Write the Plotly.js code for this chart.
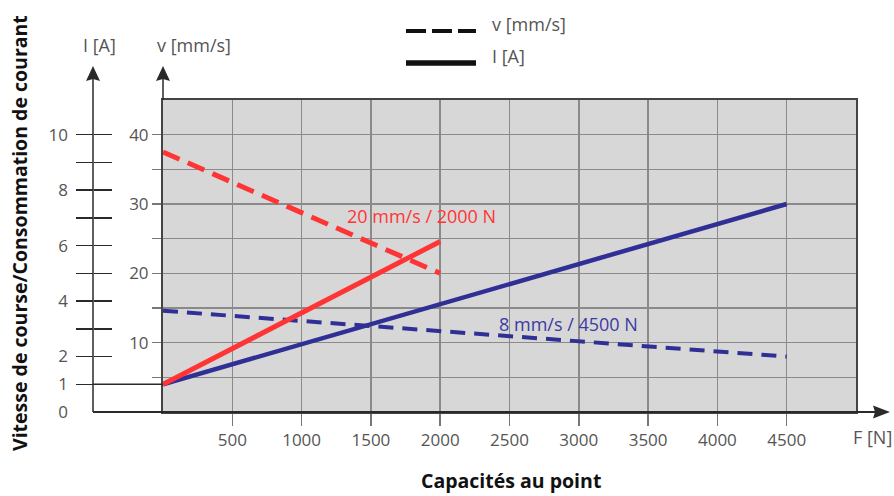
<!DOCTYPE html>
<html>
<head>
<meta charset="utf-8">
<script src="https://cdn.plot.ly/plotly-3.0.1.min.js"></script>
<style>
  html, body { margin: 0; padding: 0; background: #fff; }
  #chart { width: 894px; height: 496px; }
</style>
</head>
<body>
<div id="chart"></div>
<script>
// Force axis (N)
const forceTicks = [500, 1000, 1500, 2000, 2500, 3000, 3500, 4000, 4500];

// 20 mm/s / 2000 N drive
const forceRed = [0, 2000];
const speedRed = [37.5, 20];      // v [mm/s]
const currentRed = [1, 6.15];     // I [A]

// 8 mm/s / 4500 N drive
const forceBlue = [0, 4500];
const speedBlue = [14.6, 8];      // v [mm/s]
const currentBlue = [1, 7.5];     // I [A]

// speed axis ticks
const speedTickVals = [5, 10, 15, 20, 25, 30, 35, 40];
const speedTickText = ['', '10', '', '20', '', '30', '', '40'];

// current axis ticks
const currentTickVals = [0, 1, 2, 3, 4, 5, 6, 7, 8, 9, 10];
const currentTickText = ['0', '1', '2', '', '4', '', '6', '', '8', '', '10'];

const labelRed = '20 mm/s / 2000 N';
const labelBlue = '8 mm/s / 4500 N';

// ---- geometry ----
const W = 894, H = 496;
const M = { l: 93, r: 38, t: 100, b: 84 };
const plotW = W - M.l - M.r, plotH = H - M.t - M.b;
const vAxisPx = 163;                       // speed axis / grey area left edge
const xStart = (vAxisPx - M.l) / plotW;    // x domain start (paper)
const px = x => (x - M.l) / plotW;         // pixel -> paper x
const py = y => (H - M.b - y) / plotH;     // pixel -> paper y

const FONT = '"Open Sans", "DejaVu Sans", sans-serif';
const RED = '#ff3535';
const BLUE = '#2f2f96';
const AXIS = '#2a2a2a';
const TXT = '#555555';

const traces = [
  { x: forceRed, y: speedRed, yaxis: 'y', mode: 'lines',
    line: { color: RED, width: 5, dash: '18px,9px' }, hoverinfo: 'skip' },
  { x: forceBlue, y: speedBlue, yaxis: 'y', mode: 'lines',
    line: { color: BLUE, width: 4, dash: '15px,9px' }, hoverinfo: 'skip' },
  { x: forceBlue, y: currentBlue, yaxis: 'y2', mode: 'lines',
    line: { color: BLUE, width: 4.5 }, hoverinfo: 'skip' },
  { x: forceRed, y: currentRed, yaxis: 'y2', mode: 'lines',
    line: { color: RED, width: 5 }, hoverinfo: 'skip' },
  // empty traces so the tick-only current axes get drawn
  { x: [], y: [], yaxis: 'y3', mode: 'lines', hoverinfo: 'skip' },
  { x: [], y: [], yaxis: 'y4', mode: 'lines', hoverinfo: 'skip' }
];

const vMax = 45;
const iMax = vMax / 4;   // 10 A sits level with 40 mm/s

const freeAxis = {
  overlaying: 'y', anchor: 'free', position: 0, side: 'left',
  range: [0, iMax], autorange: false, showgrid: false, zeroline: false, showline: false,
  fixedrange: true
};

const layout = {
  width: W, height: H,
  margin: M,
  paper_bgcolor: '#ffffff',
  plot_bgcolor: '#d7d7d7',
  showlegend: false,
  font: { family: FONT, size: 17, color: TXT },
  xaxis: {
    domain: [xStart, 1], range: [0, 5000],
    tickmode: 'array', tickvals: forceTicks,
    ticks: 'outside', ticklen: 12, tickwidth: 1.5, tickcolor: '#777',
    showgrid: true, gridcolor: '#8a8a8a', gridwidth: 1.5,
    showline: true, mirror: true, linecolor: '#444', linewidth: 2,
    zeroline: false, fixedrange: true,
    tickfont: { family: FONT, size: 17, color: TXT }
  },
  yaxis: {
    range: [0, vMax],
    tickmode: 'array', tickvals: speedTickVals, ticktext: speedTickText,
    ticks: 'outside', ticklen: 9, tickwidth: 1.5, tickcolor: '#777',
    showgrid: true, gridcolor: '#8a8a8a', gridwidth: 1.5,
    showline: true, mirror: true, linecolor: '#444', linewidth: 2,
    zeroline: false, fixedrange: true,
    tickfont: { family: FONT, size: 17, color: TXT }
  },
  // current axis: labels
  yaxis2: Object.assign({}, freeAxis, {
    tickmode: 'array', tickvals: currentTickVals, ticktext: currentTickText,
    ticks: '', ticklabelstandoff: 25,
    tickfont: { family: FONT, size: 17, color: TXT }
  }),
  // current axis: tick marks left of the line
  yaxis3: Object.assign({}, freeAxis, {
    tickmode: 'array', tickvals: currentTickVals.slice(1),
    ticks: 'outside', ticklen: 17, tickwidth: 1.5, tickcolor: AXIS,
    showticklabels: false
  }),
  // current axis: tick marks right of the line
  yaxis4: Object.assign({}, freeAxis, {
    tickmode: 'array', tickvals: currentTickVals,
    ticks: 'inside', ticklen: 18, tickwidth: 1.5, tickcolor: AXIS,
    showticklabels: false
  }),
  shapes: [
    // current axis line
    { type: 'line', xref: 'paper', yref: 'paper', x0: 0, x1: 0, y0: 0, y1: py(78),
      line: { color: AXIS, width: 1.5 } },
    // speed axis extension above the grey area
    { type: 'line', xref: 'paper', yref: 'paper', x0: xStart, x1: xStart, y0: 1, y1: py(78),
      line: { color: AXIS, width: 1.5 } },
    // force axis line
    { type: 'line', xref: 'paper', yref: 'paper', x0: 0, x1: px(876), y0: 0, y1: 0,
      line: { color: AXIS, width: 2 } },
    // 1 A level carried across to the speed axis
    { type: 'line', xref: 'paper', yref: 'y2', x0: 0, x1: xStart, y0: 1, y1: 1,
      line: { color: AXIS, width: 1.5 } },
    // arrowheads
    { type: 'path', xref: 'paper', yref: 'paper', xsizemode: 'pixel', ysizemode: 'pixel',
      xanchor: 0, yanchor: py(66), path: 'M0,0 L-7,-15 L0,-13 L7,-15 Z',
      fillcolor: AXIS, line: { width: 0 } },
    { type: 'path', xref: 'paper', yref: 'paper', xsizemode: 'pixel', ysizemode: 'pixel',
      xanchor: xStart, yanchor: py(66), path: 'M0,0 L-7,-15 L0,-13 L7,-15 Z',
      fillcolor: AXIS, line: { width: 0 } },
    { type: 'path', xref: 'paper', yref: 'paper', xsizemode: 'pixel', ysizemode: 'pixel',
      xanchor: px(890), yanchor: 0, path: 'M0,0 L-17,-6.5 L-15,0 L-17,6.5 Z',
      fillcolor: AXIS, line: { width: 0 } },
    // key
    { type: 'line', xref: 'paper', yref: 'paper', x0: px(406), x1: px(476), y0: py(31), y1: py(31),
      line: { color: '#111', width: 4, dash: '20px,6px' } },
    { type: 'line', xref: 'paper', yref: 'paper', x0: px(406), x1: px(476), y0: py(63), y1: py(63),
      line: { color: '#111', width: 5.5 } }
  ],
  annotations: [
    { text: 'v [mm/s]', xref: 'paper', yref: 'paper', x: px(490), y: py(24),
      xanchor: 'left', yanchor: 'middle', showarrow: false,
      font: { family: FONT, size: 18, color: TXT } },
    { text: 'I [A]', xref: 'paper', yref: 'paper', x: px(490), y: py(56),
      xanchor: 'left', yanchor: 'middle', showarrow: false,
      font: { family: FONT, size: 18, color: TXT } },
    { text: 'I [A]', xref: 'paper', yref: 'paper', x: px(99), y: py(45),
      xanchor: 'center', yanchor: 'middle', showarrow: false,
      font: { family: FONT, size: 18, color: TXT } },
    { text: 'v [mm/s]', xref: 'paper', yref: 'paper', x: px(155), y: py(45),
      xanchor: 'left', yanchor: 'middle', showarrow: false,
      font: { family: FONT, size: 18, color: TXT } },
    { text: 'F [N]', xref: 'paper', yref: 'paper', x: px(851), y: py(437),
      xanchor: 'left', yanchor: 'middle', showarrow: false,
      font: { family: FONT, size: 18, color: TXT } },
    { text: labelRed, xref: 'x', yref: 'y', x: 1310, y: 28.2,
      xanchor: 'left', yanchor: 'middle', showarrow: false,
      font: { family: FONT, size: 18, color: RED } },
    { text: labelBlue, xref: 'x', yref: 'y', x: 2410, y: 12.7,
      xanchor: 'left', yanchor: 'middle', showarrow: false,
      font: { family: FONT, size: 18, color: '#3b3ba3' } },
    { text: '<b>Vitesse de course/Consommation de courant</b>', xref: 'paper', yref: 'paper',
      x: px(19), y: py(233), textangle: -90,
      xanchor: 'center', yanchor: 'middle', showarrow: false,
      font: { family: FONT, size: 19.5, color: '#111' } },
    { text: '<b>Capacités au point</b>', xref: 'paper', yref: 'paper',
      x: px(511), y: py(496),
      xanchor: 'center', yanchor: 'bottom', showarrow: false,
      font: { family: FONT, size: 19.5, color: '#111' } }
  ]
};

Plotly.newPlot('chart', traces, layout, { staticPlot: true, displayModeBar: false });
</script>
</body>
</html>
